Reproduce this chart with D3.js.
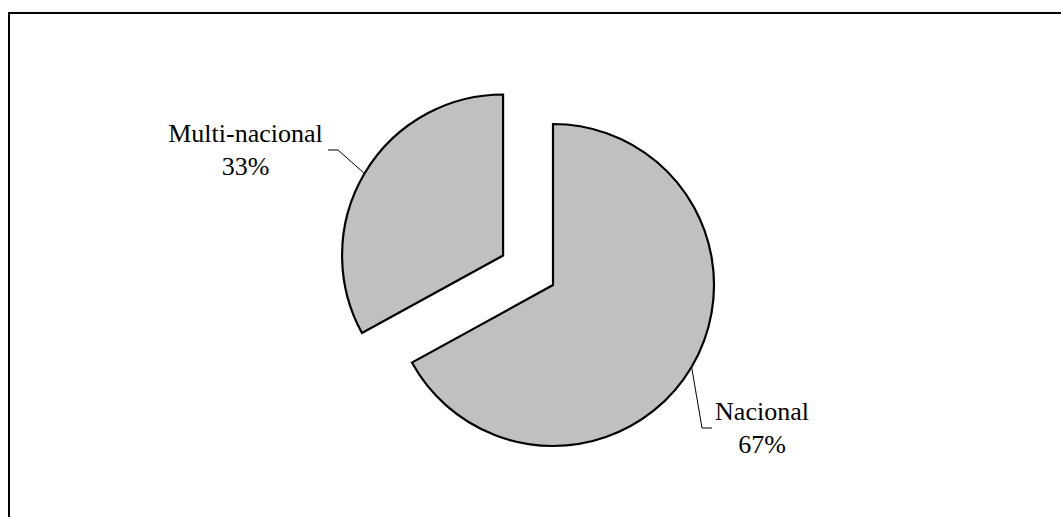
<!DOCTYPE html>
<html>
<head>
<meta charset="utf-8">
<script src="https://cdn.jsdelivr.net/npm/d3@7"></script>
<style>
  html, body { margin: 0; padding: 0; background: #fff; }
  svg { display: block; }
</style>
</head>
<body>
<svg id="chart" width="1061" height="517"></svg>
<script>
// Company type shares
const categories = ["Nacional", "Multi-nacional"];
const values = [67, 33];
const percentLabels = ["67%", "33%"];

const svg = d3.select("#chart");
const W = 1061, H = 517;

// Outer frame (runs past the right and bottom edges)
svg.append("rect")
  .attr("x", 9).attr("y", 13)
  .attr("width", W).attr("height", H)
  .attr("fill", "none")
  .attr("stroke", "#000")
  .attr("stroke-width", 2);

const cx = 553, cy = 285, radius = 161;
const explode = [0, 58];

const pie = d3.pie().sort(null).value(d => d).startAngle(0).endAngle(2 * Math.PI);
const arcs = pie(values);
const arc = d3.arc().innerRadius(0).outerRadius(radius);

const g = svg.append("g").attr("transform", `translate(${cx},${cy})`);

function offset(d, i) {
  const mid = (d.startAngle + d.endAngle) / 2;
  return [Math.sin(mid) * explode[i], -Math.cos(mid) * explode[i]];
}

const slices = g.selectAll("g.slice")
  .data(arcs)
  .join("g")
  .attr("class", "slice")
  .attr("transform", (d, i) => {
    const [dx, dy] = offset(d, i);
    return `translate(${dx},${dy})`;
  });

slices.append("path")
  .attr("d", arc)
  .attr("fill", "#C0C0C0")
  .attr("stroke", "#000")
  .attr("stroke-width", 2.2)
  .attr("stroke-linejoin", "miter");

// Leader lines and labels: elbow and text positions relative to the pie centre
const labelLayout = [
  { elbow: [149, 143], end: [159, 143], text: [209, 135] },
  { elbow: [-215, -135], end: [-225, -135], text: [-307.5, -143] }
];

slices.each(function (d, i) {
  const sel = d3.select(this);
  const [dx, dy] = offset(d, i);
  const mid = (d.startAngle + d.endAngle) / 2;
  const p0 = [Math.sin(mid) * radius, -Math.cos(mid) * radius];
  const L = labelLayout[i];
  const toLocal = p => [p[0] - dx, p[1] - dy];
  const pts = [p0, toLocal(L.elbow), toLocal(L.end)];
  sel.append("path")
    .attr("d", d3.line()(pts))
    .attr("fill", "none")
    .attr("stroke", "#000")
    .attr("stroke-width", 1);
  const t = toLocal(L.text);
  const txt = sel.append("text")
    .attr("x", t[0]).attr("y", t[1])
    .attr("text-anchor", "middle")
    .attr("font-family", "'Liberation Serif', 'Times New Roman', serif")
    .attr("font-size", 26)
    .attr("fill", "#000");
  txt.append("tspan").attr("x", t[0]).text(categories[i]);
  txt.append("tspan").attr("x", t[0]).attr("dy", 33).text(percentLabels[i]);
});
</script>
</body>
</html>
